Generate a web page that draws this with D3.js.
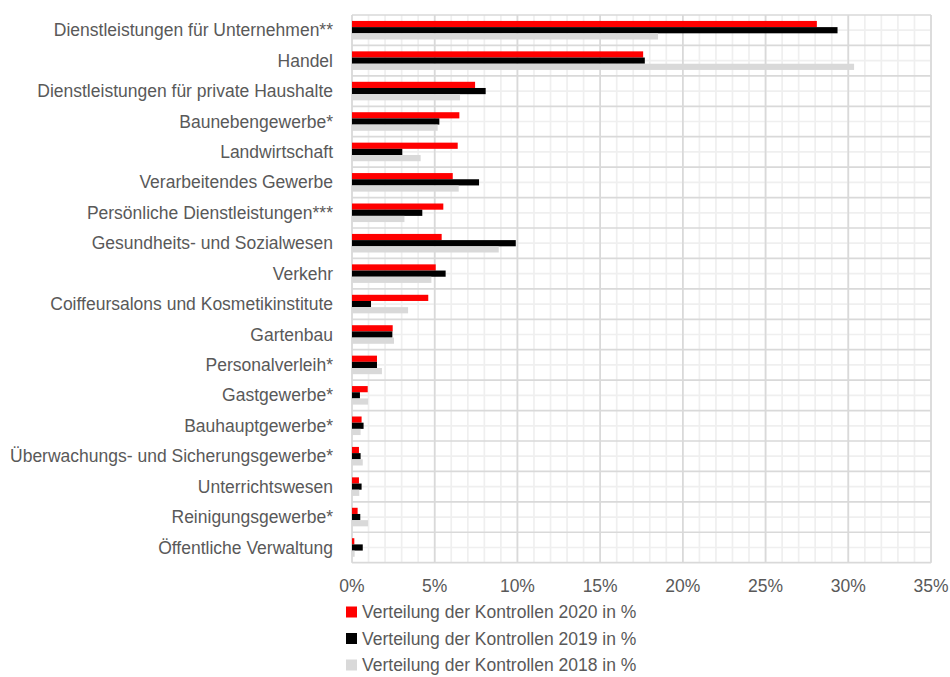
<!DOCTYPE html>
<html>
<head>
<meta charset="utf-8">
<script src="https://cdn.jsdelivr.net/npm/d3@7"></script>
<style>
  html, body { margin: 0; padding: 0; background: #fff; }
  text { font-family: "Liberation Sans", Arial, sans-serif; }
</style>
</head>
<body>
<svg id="chart" width="950" height="677"></svg>
<script>
const categories = [
  "Dienstleistungen für Unternehmen**",
  "Handel",
  "Dienstleistungen für private Haushalte",
  "Baunebengewerbe*",
  "Landwirtschaft",
  "Verarbeitendes Gewerbe",
  "Persönliche Dienstleistungen***",
  "Gesundheits- und Sozialwesen",
  "Verkehr",
  "Coiffeursalons und Kosmetikinstitute",
  "Gartenbau",
  "Personalverleih*",
  "Gastgewerbe*",
  "Bauhauptgewerbe*",
  "Überwachungs- und Sicherungsgewerbe*",
  "Unterrichtswesen",
  "Reinigungsgewerbe*",
  "Öffentliche Verwaltung"
];
const values2020 = [28.1, 17.6, 7.44, 6.49, 6.39, 6.09, 5.52, 5.42, 5.06, 4.61, 2.46, 1.51, 0.95, 0.58, 0.42, 0.42, 0.34, 0.14];
const values2019 = [29.35, 17.7, 8.08, 5.28, 3.04, 7.68, 4.25, 9.9, 5.66, 1.15, 2.44, 1.51, 0.48, 0.7, 0.52, 0.58, 0.5, 0.65];
const values2018 = [18.5, 30.35, 6.53, 5.18, 4.15, 6.45, 3.17, 8.87, 4.8, 3.39, 2.54, 1.81, 0.97, 0.52, 0.65, 0.44, 0.97, 0.16];
const seriesNames = [
  "Verteilung der Kontrollen 2020 in %",
  "Verteilung der Kontrollen 2019 in %",
  "Verteilung der Kontrollen 2018 in %"
];
const seriesColors = ["#ff0000", "#000000", "#d9d9d9"];
const xTicks = [0, 5, 10, 15, 20, 25, 30, 35];

const series = [values2020, values2019, values2018];

const svg = d3.select("#chart");
const pLeft = 352, pRight = 931, pTop = 15, pBottom = 562.7;

const x = d3.scaleLinear().domain([0, 35]).range([pLeft, pRight]);
const y = d3.scaleBand().domain(categories).range([pTop, pBottom])
  .paddingInner(0.39).paddingOuter(0.195);
const ySub = d3.scaleBand().domain(d3.range(3)).range([0, y.bandwidth()]).padding(0);
const step = y.step();

const grid = svg.append("g");
// minor vertical
grid.selectAll(".vmin").data(d3.range(0, 36)).join("line")
  .attr("x1", d => x(d)).attr("x2", d => x(d))
  .attr("y1", pTop).attr("y2", pBottom)
  .attr("stroke", "#efefef").attr("stroke-width", 1.7);
// minor horizontal (mid band)
grid.selectAll(".hmin").data(categories).join("line")
  .attr("x1", pLeft).attr("x2", pRight)
  .attr("y1", (d, i) => pTop + step * (i + 0.5)).attr("y2", (d, i) => pTop + step * (i + 0.5))
  .attr("stroke", "#efefef").attr("stroke-width", 1.7);
// major horizontal
grid.selectAll(".hmaj").data(d3.range(categories.length + 1)).join("line")
  .attr("x1", pLeft).attr("x2", pRight)
  .attr("y1", i => pTop + step * i).attr("y2", i => pTop + step * i)
  .attr("stroke", "#d9d9d9").attr("stroke-width", 1.7);
// major vertical
grid.selectAll(".vmaj").data(xTicks).join("line")
  .attr("x1", d => x(d)).attr("x2", d => x(d))
  .attr("y1", pTop).attr("y2", pBottom)
  .attr("stroke", "#d9d9d9").attr("stroke-width", 1.7);

// bars
series.forEach((vals, si) => {
  svg.append("g").selectAll("rect").data(vals).join("rect")
    .attr("x", x(0))
    .attr("y", (d, i) => y(categories[i]) + ySub(si))
    .attr("width", d => x(d) - x(0))
    .attr("height", ySub.bandwidth())
    .attr("fill", seriesColors[si]);
});

// category labels
svg.append("g").selectAll("text").data(categories).join("text")
  .attr("x", 333)
  .attr("y", d => y(d) + y.bandwidth() / 2)
  .attr("dy", "0.35em")
  .attr("text-anchor", "end")
  .attr("font-size", "17.5px")
  .attr("fill", "#595959")
  .text(d => d);

// x tick labels
svg.append("g").selectAll("text").data(xTicks).join("text")
  .attr("x", d => x(d))
  .attr("y", 586)
  .attr("dy", "0.35em")
  .attr("text-anchor", "middle")
  .attr("font-size", "17.5px")
  .attr("fill", "#595959")
  .text(d => d + "%");

// legend
const legend = svg.append("g").selectAll("g").data(seriesNames).join("g")
  .attr("transform", (d, i) => `translate(346, ${612 + i * 26.5})`);
legend.append("rect")
  .attr("x", 0).attr("y", -5.5).attr("width", 11).attr("height", 11)
  .attr("fill", (d, i) => seriesColors[i]);
legend.append("text")
  .attr("x", 16).attr("y", 0).attr("dy", "0.35em")
  .attr("font-size", "17.5px")
  .attr("fill", "#595959")
  .text(d => d);
</script>
</body>
</html>
